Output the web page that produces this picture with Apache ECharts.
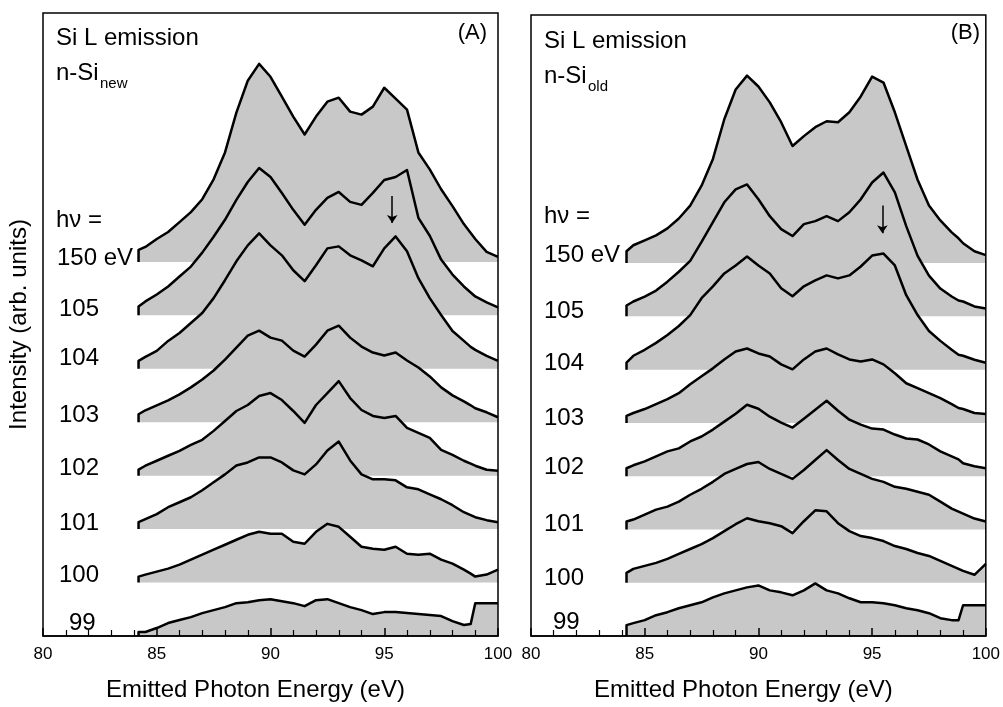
<!DOCTYPE html>
<html>
<head>
<meta charset="utf-8">
<title>Si L emission</title>
<script src="https://cdn.jsdelivr.net/npm/echarts@6/dist/echarts.min.js"></script>
<style>
  html, body { margin: 0; padding: 0; background: #fff; }
  #main { width: 1003px; height: 707px; }
</style>
</head>
<body>
<div id="main"></div>
<script>
// emitted photon energy (eV), shared by every spectrum
var energy = [84.2, 84.5, 85.0, 85.5, 86.0, 86.5, 87.0, 87.5, 88.0, 88.5,
              89.0, 89.5, 90.0, 90.5, 91.0, 91.5, 92.0, 92.5, 93.0, 93.5,
              94.0, 94.5, 95.0, 95.5, 96.0, 96.5, 97.0, 97.5, 98.0, 98.5,
              98.8, 99.0, 99.5, 100.0];

// excitation energies, top spectrum first
var photonLabels = ['150 eV', '105', '104', '103', '102', '101', '100', '99'];

// (A) n-Si new, intensity above each spectrum's own baseline
var newSi150 = [12, 15, 23, 30, 40, 50, 63, 83, 110, 150, 182, 199, 186, 166, 146, 128, 146, 161, 165, 151, 148, 156, 175, 164, 153, 110, 93, 73, 56, 38, 29, 23, 10, 5];
var newSi105 = [9, 14, 21, 29, 39, 49, 63, 79, 96, 116, 134, 148, 139, 123, 106, 91, 106, 118, 124, 114, 111, 123, 136, 139, 146, 98, 80, 56, 41, 29, 23, 19, 13, 8];
var newSi104 = [8, 12, 18, 28, 36, 46, 56, 71, 89, 108, 124, 136, 124, 114, 99, 88, 104, 121, 123, 114, 109, 103, 121, 133, 118, 91, 71, 54, 38, 28, 22, 19, 13, 8];
var newSi103 = [8, 12, 17, 22, 28, 35, 43, 52, 63, 75, 87, 92, 85, 82, 72, 66, 78, 92, 97, 85, 76, 70, 67, 70, 62, 55, 46, 35, 27, 21, 17, 14, 10, 5];
var newSi102 = [6, 10, 15, 20, 25, 31, 36, 45, 55, 65, 71, 80, 83, 76, 65, 53, 71, 83, 95, 78, 66, 60, 58, 60, 48, 43, 38, 26, 21, 15, 12, 10, 6, 5];
var newSi101 = [7, 10, 15, 22, 27, 32, 39, 47, 55, 64, 67, 72, 72, 67, 59, 55, 65, 79, 88, 69, 55, 50, 50, 49, 42, 40, 35, 30, 24, 17, 14, 12, 9, 7];
var newSi100 = [6, 8, 11, 14, 18, 23, 28, 33, 38, 43, 48, 51, 49, 49, 41, 39, 51, 59, 56, 46, 36, 34, 33, 36, 29, 28, 29, 23, 19, 13, 9, 6, 8, 13];
var newSi99  = [4, 4, 8, 13, 16, 19, 23, 26, 29, 33, 34, 36, 37, 35, 33, 30, 36, 37, 33, 29, 26, 22, 24, 24, 23, 22, 21, 20, 15, 11, 12, 33, 33, 33];

// (B) n-Si old
var oldSi150 = [12, 18, 23, 28, 35, 45, 58, 78, 105, 145, 175, 189, 178, 162, 142, 118, 128, 137, 143, 142, 152, 168, 188, 182, 152, 118, 84, 58, 43, 31, 25, 20, 12, 8];
var oldSi105 = [11, 15, 20, 26, 35, 45, 56, 75, 95, 115, 128, 133, 118, 101, 88, 81, 93, 96, 101, 96, 105, 118, 135, 145, 125, 91, 61, 41, 28, 20, 16, 15, 10, 8];
var oldSi104 = [7, 14, 20, 27, 35, 44, 55, 72, 84, 97, 105, 114, 105, 97, 82, 74, 84, 90, 95, 92, 95, 104, 115, 117, 105, 75, 55, 39, 29, 20, 15, 14, 10, 7];
var oldSi103 = [7, 10, 14, 19, 24, 30, 39, 47, 55, 64, 72, 75, 70, 67, 59, 54, 64, 72, 75, 69, 64, 62, 64, 59, 50, 40, 35, 30, 25, 19, 15, 14, 10, 9];
var oldSi102 = [8, 11, 15, 20, 25, 28, 35, 40, 47, 55, 63, 72, 68, 60, 54, 49, 58, 67, 76, 66, 57, 52, 48, 47, 42, 38, 37, 32, 25, 20, 17, 13, 10, 8];
var oldSi101 = [8, 10, 15, 20, 23, 28, 35, 41, 48, 56, 61, 66, 68, 61, 56, 51, 60, 70, 80, 70, 61, 56, 51, 48, 43, 41, 38, 35, 28, 21, 18, 16, 11, 8];
var oldSi100 = [10, 14, 17, 20, 24, 29, 34, 39, 45, 52, 59, 65, 62, 60, 57, 50, 62, 73, 72, 60, 52, 47, 45, 42, 37, 34, 30, 27, 22, 17, 14, 12, 8, 19];
var oldSi99  = [11, 13, 16, 21, 24, 28, 31, 34, 39, 43, 46, 49, 51, 46, 44, 41, 46, 53, 46, 43, 38, 34, 34, 33, 31, 28, 26, 23, 18, 16, 16, 31, 31, 31];

// x axis ticks
var xTicks = [80, 85, 90, 95, 100];

// arrows marking the 95.5 eV feature: [energy, from, to] in plot units
var arrowNew = [95.35, 442, 415];
var arrowOld = [95.45, 434, 406];

var OFFSET = 53.7;        // vertical shift between spectra
var Y_MAX = 626;
var FILL = '#c8c8c8';
var FONT = 'Liberation Sans, Arial, Helvetica, sans-serif';

var newSpectra = [newSi150, newSi105, newSi104, newSi103, newSi102, newSi101, newSi100, newSi99];
var oldSpectra = [oldSi150, oldSi105, oldSi104, oldSi103, oldSi102, oldSi101, oldSi100, oldSi99];

function spectrumSeries(values, level, panel) {
    var base = level * OFFSET;
    var pts = [[energy[0], base]];
    for (var i = 0; i < energy.length; i++) {
        pts.push([energy[i], base + values[i]]);
    }
    return {
        type: 'line',
        xAxisIndex: panel,
        yAxisIndex: panel,
        data: pts,
        symbol: 'none',
        silent: true,
        lineStyle: { color: '#000', width: 2.5, join: 'round' },
        areaStyle: { color: FILL, opacity: 1, origin: base }
    };
}

function arrowSeries(a, panel) {
    return {
        type: 'line',
        xAxisIndex: panel,
        yAxisIndex: panel,
        data: [[a[0], a[1]], [a[0], a[2]]],
        symbol: 'none',
        lineStyle: { opacity: 0 },
        z: 5,
        markLine: {
            silent: true,
            symbol: ['none', 'arrow'],
            symbolSize: 8,
            label: { show: false },
            lineStyle: { color: '#000', width: 1.5, type: 'solid' },
            data: [[{ coord: [a[0], a[1]] }, { coord: [a[0], a[2]] }]]
        }
    };
}

function xAxis(panel) {
    return {
        gridIndex: panel,
        type: 'value',
        min: xTicks[0],
        max: xTicks[xTicks.length - 1],
        interval: xTicks[1] - xTicks[0],
        z: 10,
        axisLine: { show: true, lineStyle: { color: '#000', width: 1.5 } },
        axisTick: { show: true, inside: true, length: 8, lineStyle: { color: '#000', width: 1.5 } },
        minorTick: { show: true, splitNumber: 5, length: 6, lineStyle: { color: '#000', width: 1.2 } },
        splitLine: { show: false },
        axisLabel: { color: '#000', fontSize: 17, margin: 10, fontFamily: FONT },
        name: 'Emitted Photon Energy (eV)',
        nameLocation: 'middle',
        nameGap: 42,
        nameTextStyle: { color: '#000', fontSize: 24, fontFamily: FONT, padding: [0, 30, 0, 0] }
    };
}

function yAxis(panel, name) {
    return {
        gridIndex: panel,
        type: 'value',
        min: 0,
        max: Y_MAX,
        axisLine: { show: false },
        axisTick: { show: false },
        axisLabel: { show: false },
        splitLine: { show: false },
        name: name,
        nameLocation: 'middle',
        nameGap: 12,
        nameTextStyle: { color: '#000', fontSize: 24, fontFamily: FONT }
    };
}

function txt(x, y, s, size, align) {
    return {
        type: 'text', x: x, y: y, z: 20, silent: true,
        style: { text: s, fill: '#000', fontSize: size, fontFamily: FONT,
                 align: align || 'left', verticalAlign: 'middle' }
    };
}

// label layout (pixels) for the hν column of each panel
var labelXNew = [57, 59, 59, 59, 59, 59, 59, 69];
var labelYNew = [258, 309, 358, 415, 468, 523, 575, 623];
var labelXOld = [544, 544, 544, 544, 544, 544, 544, 553];
var labelYOld = [255, 311, 363, 418, 467, 524, 578, 622];

var graphics = [
    txt(56, 38, 'Si L emission', 24),
    txt(56, 73, 'n-Si', 24),
    txt(100, 84, 'new', 15),
    txt(487, 33, '(A)', 22, 'right'),
    txt(56, 220, 'hν =', 24),
    txt(544, 41, 'Si L emission', 24),
    txt(544, 76, 'n-Si', 24),
    txt(588, 87, 'old', 15),
    txt(980, 33, '(B)', 22, 'right'),
    txt(544, 216, 'hν =', 24)
];
photonLabels.forEach(function (lab, i) {
    graphics.push(txt(labelXNew[i], labelYNew[i], lab, 24));
    graphics.push(txt(labelXOld[i], labelYOld[i], lab, 24));
});

var series = [];
newSpectra.forEach(function (v, i) {
    series.push(spectrumSeries(v, newSpectra.length - 1 - i, 0));
});
oldSpectra.forEach(function (v, i) {
    series.push(spectrumSeries(v, oldSpectra.length - 1 - i, 1));
});
series.push(arrowSeries(arrowNew, 0));
series.push(arrowSeries(arrowOld, 1));

var chart = echarts.init(document.getElementById('main'));
chart.setOption({
    animation: false,
    backgroundColor: '#fff',
    grid: [
        { left: 43, right: 505, top: 13, bottom: 68, show: true, borderColor: '#000', borderWidth: 1.5, z: 6 },
        { left: 531, right: 16, top: 15, bottom: 66, show: true, borderColor: '#000', borderWidth: 1.5, z: 6 }
    ],
    xAxis: [xAxis(0), xAxis(1)],
    yAxis: [yAxis(0, 'Intensity (arb. units)'), yAxis(1, '')],
    series: series,
    graphic: graphics
});
</script>
</body>
</html>
